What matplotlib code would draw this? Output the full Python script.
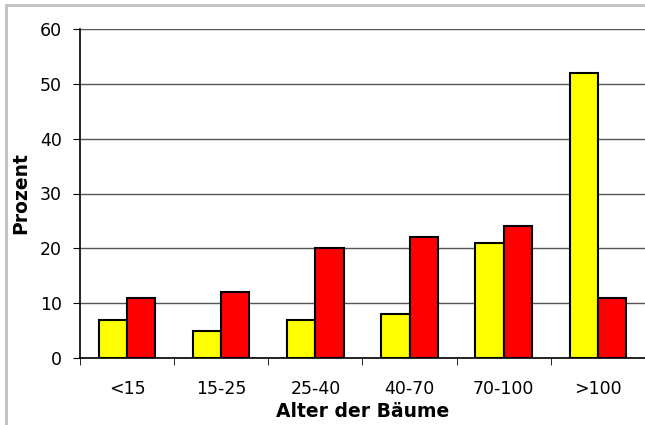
import matplotlib.pyplot as plt
import numpy as np
from matplotlib.patches import Rectangle

kategorien = ["<15", "15-25", "25-40", "40-70", "70-100", ">100"]
gelb = [7, 5, 7, 8, 21, 52]
rot = [11, 12, 20, 22, 24, 11]
y_ticks = [0, 10, 20, 30, 40, 50, 60]

plt.rcParams['font.family'] = ['DejaVu Sans']

fig = plt.figure(figsize=(6.45, 4.25), dpi=100)
# grauer Rahmen um das Diagramm
fig.patches.append(Rectangle((6/645, -0.1), 1.2, 1.1 - 5/425, transform=fig.transFigure,
                             fill=False, edgecolor='#c0c0c0', lw=2))

ax = fig.add_axes([80/645, 1 - 358/425, 1 - 80/645, (358 - 29)/425])
x = np.arange(len(kategorien))
b = 0.3
ax.bar(x - b/2, gelb, b, color='#ffff00', edgecolor='black', lw=1.5, zorder=3)
ax.bar(x + b/2, rot, b, color='#ff0000', edgecolor='black', lw=1.5, zorder=3)

ax.set_xlim(-0.5, 5.385)
ax.set_ylim(0, 60)
ax.set_yticks(y_ticks)
ax.set_xticks(x)
ax.set_xticklabels(kategorien)
ax.set_xticks(np.arange(-0.5, 6, 1), minor=True)
ax.tick_params(axis='x', which='major', length=0, pad=16, labelsize=12.5)
ax.tick_params(axis='x', which='minor', length=5, direction='out')
ax.tick_params(axis='y', length=5, direction='out', pad=8, labelsize=12.5)

ax.grid(axis='y', color='#555555', lw=1, zorder=0)
for s in ['top', 'right']:
    ax.spines[s].set_visible(False)
ax.spines['left'].set_linewidth(1.2)
ax.spines['bottom'].set_linewidth(1.2)

ax.set_xlabel("Alter der Bäume", fontweight='bold', fontsize=13.5, labelpad=3)
ax.set_ylabel("Prozent", fontweight='bold', fontsize=13.5, labelpad=7)

fig.savefig("out.png", dpi=100)
